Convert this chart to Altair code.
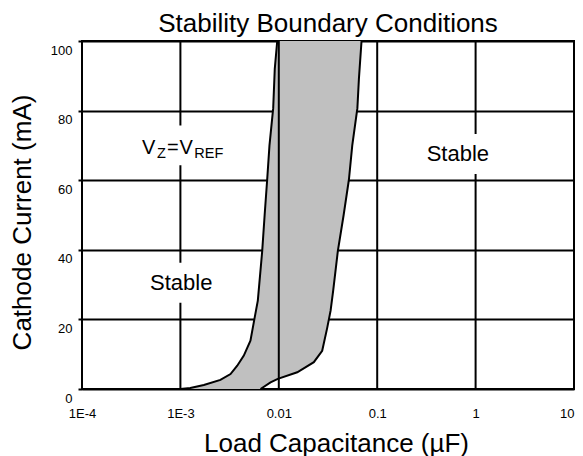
import altair as alt
import pandas as pd

# ---------------- data ----------------
x_ticks = [1e-4, 1e-3, 1e-2, 1e-1, 1, 10]
x_tick_labels = ["1E-4", "1E-3", "0.01", "0.1", "1", "10"]
y_ticks = [0, 20, 40, 60, 80, 100]

# left stability boundary (bottom -> top)
left_x = [1.0e-3, 1.26e-3, 1.73e-3, 2.55e-3, 3.23e-3, 3.78e-3, 4.41e-3, 5.15e-3,
          5.6e-3, 6.12e-3, 6.78e-3, 7.18e-3, 7.62e-3, 8.04e-3, 8.77e-3, 9.1e-3, 9.64e-3]
left_y = [0, 0.3, 1.15, 2.6, 4.3, 6.7, 9.6, 13.9,
          19.5, 25.4, 39.6, 50, 60.2, 70, 80.7, 92, 100]

# right stability boundary (bottom -> top)
right_x = [6.52e-3, 8.24e-3, 9.77e-3, 1.54e-2, 2.27e-2, 2.76e-2, 3.1e-2, 3.36e-2,
           3.57e-2, 3.98e-2, 4.56e-2, 5.16e-2, 5.58e-2, 6.29e-2, 6.52e-2, 6.93e-2]
right_y = [0, 1.9, 2.9, 4.8, 7.7, 11, 17.5, 22.5,
           28.3, 39.6, 50, 60.2, 70, 80.7, 89.2, 100]

# annotation anchors
stable_x = [1.02e-3, 0.66]
stable_y = [30.5, 67.5]
vz_x = [4.07e-4]
vz_y = [67.4]
vz_box_x = [1.05e-3]
vz_box_y = [70]

title_text = "Stability Boundary Conditions"
x_title = "Load Capacitance (\u00b5F)"
y_title = "Cathode Current (mA)"

# ---------------- tables ----------------
n_l, n_r = len(left_x), len(right_x)
poly = pd.DataFrame({
    "x": left_x + right_x[::-1],
    "y": left_y + right_y[::-1],
    "order": list(range(n_l + n_r)),
})
curves = pd.DataFrame({
    "x": left_x + right_x,
    "y": left_y + right_y,
    "curve": ["left"] * n_l + ["right"] * n_r,
    "order": list(range(n_l)) + list(range(n_r)),
})
vrules = pd.DataFrame({"x": x_ticks[1:-1]})
stable_df = pd.DataFrame({"x": stable_x, "y": stable_y, "t": ["Stable"] * len(stable_x)})
vz_df = pd.DataFrame({"x": vz_x, "y": vz_y})
vz_box_df = pd.DataFrame({"x": vz_box_x, "y": vz_box_y})
title_df = pd.DataFrame({"t": [title_text]})

FONT = "Liberation Sans"
W, H = 492, 348

label_expr = "".join(
    f"abs(datum.value - {v}) < {v}*0.01 ? '{lab}' : " for v, lab in zip(x_ticks, x_tick_labels)
) + "datum.label"

xscale = alt.Scale(type="log", domain=[1e-4, 10], nice=False)
yscale = alt.Scale(domain=[0, 100], nice=False, zero=False)

x_axis = alt.Axis(
    values=x_ticks, labelExpr=label_expr, grid=False, ticks=False, tickSize=0,
    domain=False, labelFontSize=13, labelFont=FONT, labelColor="black",
    labelBaseline="middle", labelPadding=24, labelFlush=False,
    labelAlign={"condition": {"test": f"datum.value >= {x_ticks[-1]}", "value": "right"}, "value": "center"},
    title=x_title, titleFont=FONT, titleFontSize=26, titleFontWeight="normal",
    titleColor="black", titleBaseline="alphabetic", titleY=62, titleX=W / 2 + 8,
)
y_axis = alt.Axis(
    values=y_ticks, grid=True, gridColor="black", gridWidth=2, gridOpacity=1,
    ticks=True, tickSize=4, tickWidth=2, tickColor="black", domain=False,
    labelFontSize=13, labelFont=FONT, labelColor="black", labelPadding=6,
    labelOffset=9, labelFlush=False,
    title=y_title, titleFont=FONT, titleFontSize=26, titleFontWeight="normal",
    titleColor="black", titleBaseline="alphabetic", titleX=-52, titleY=181,
    titleAngle=-90, titleAlign="center",
)

X = alt.X("x:Q", scale=xscale, axis=x_axis)
Y = alt.Y("y:Q", scale=yscale, axis=y_axis)

fill = alt.Chart(poly).mark_line(
    fill="#c0c0c0", strokeOpacity=0, interpolate="linear"
).encode(x=X, y=Y, order="order:Q")

rules = alt.Chart(vrules).mark_rule(color="black", strokeWidth=2).encode(x=X)

stable_boxes = alt.Chart(stable_df).mark_point(
    shape="M-1,-0.571H1V0.571H-1Z", filled=True, fill="white", opacity=1,
    strokeOpacity=0, size=4900,
).encode(x=X, y=Y)

vz_box = alt.Chart(vz_box_df).mark_point(
    shape="M-1,-0.44H1V0.44H-1Z", filled=True, fill="white", opacity=1,
    strokeOpacity=0, size=8100,
).encode(x=X, y=Y)

lines = alt.Chart(curves).mark_line(color="black", strokeWidth=2).encode(
    x=X, y=Y, detail="curve:N", order="order:Q",
)

stable_text = alt.Chart(stable_df).mark_text(
    font=FONT, fontSize=22, color="black", baseline="middle", align="center"
).encode(x=X, y=Y, text="t:N")

vz_parts = [("V", 20, 0, 0), ("Z", 14.5, 15, 4), ("=", 20, 25, 0), ("V", 20, 37.6, 0), ("REF", 14.5, 52.3, 4)]
vz_layers = []
for txt, fs, dx, dy in vz_parts:
    vz_layers.append(
        alt.Chart(vz_df).mark_text(
            text=txt, font=FONT, fontSize=fs, color="black", align="left",
            baseline="alphabetic", dx=dx, dy=dy,
        ).encode(x=X, y=Y)
    )

title_mark = alt.Chart(title_df).mark_text(
    font=FONT, fontSize=26, color="black", align="center", baseline="alphabetic",
).encode(x=alt.value(W / 2), y=alt.value(-9), text="t:N")

chart = alt.layer(fill, rules, stable_boxes, vz_box, lines, stable_text, *vz_layers, title_mark).properties(
    width=W,
    height=H,
    autosize=alt.AutoSizeParams(type="none"),
    padding={"left": 74, "top": 33, "right": 1, "bottom": 67},
    background="white",
).configure_view(stroke="black", strokeWidth=2)

chart.save("out.html", embed_options={"renderer": "svg", "actions": False})
